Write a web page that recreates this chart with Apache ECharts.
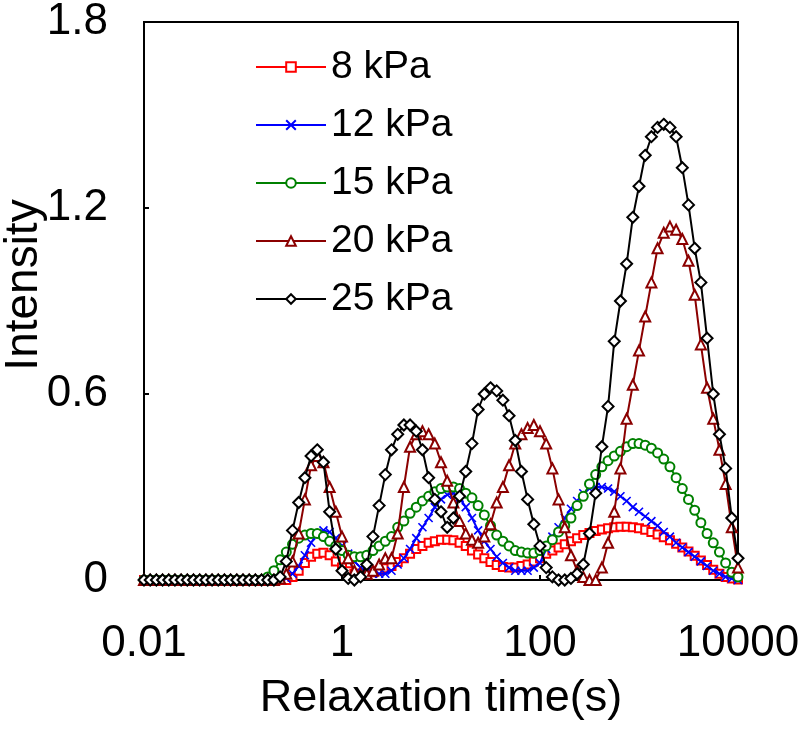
<!DOCTYPE html>
<html>
<head>
<meta charset="utf-8">
<script src="https://cdn.jsdelivr.net/npm/echarts@6/dist/echarts.min.js"></script>
<style>
html,body{margin:0;padding:0;background:#fff;}
#chart{width:800px;height:729px;}
</style>
</head>
<body>
<div id="chart"></div>
<script>
// Relaxation times (s), log-spaced grid
const times = [0.01,0.01155,0.01334,0.0154,0.01778,0.02054,0.02371,0.02738,0.03162,0.03652,0.04217,0.0487,0.05623,0.06494,0.07499,0.0866,
0.1,0.1155,0.1334,0.154,0.1778,0.2054,0.2371,0.2738,0.3162,0.3652,0.4217,0.487,0.5623,0.6494,0.7499,0.866,
1,1.155,1.334,1.54,1.778,2.054,2.371,2.738,3.162,3.652,4.217,4.87,5.623,6.494,7.499,8.66,
10,11.55,13.34,15.4,17.78,20.54,23.71,27.38,31.62,36.52,42.17,48.7,56.23,64.94,74.99,86.6,
100,115.5,133.4,154,177.8,205.4,237.1,273.8,316.2,365.2,421.7,487,562.3,649.4,749.9,866,
1000,1155,1334,1540,1778,2054,2371,2738,3162,3652,4217,4870,5623,6494,7499,8660,
10000];

const seriesNames = ['8 kPa','12 kPa','15 kPa','20 kPa','25 kPa'];

const kPa8 = [0,0,0,0,0,0,0,0,0,0,0,0,0,0,0,0,0,0,0,0,0,0,0,0,
0.01,0.03,0.055,0.075,0.085,0.088,0.08,0.06,
0.04,0.028,0.02,0.02,0.022,0.025,0.03,0.038,0.045,0.058,
0.07,0.085,0.10,0.11,0.12,0.125,0.13,0.13,0.128,0.12,
0.11,0.095,0.082,0.07,0.058,0.048,0.042,0.04,0.04,0.045,
0.05,0.06,0.07,0.085,0.095,0.105,0.115,0.125,0.135,0.145,
0.152,0.158,0.163,0.167,0.17,0.172,0.172,0.17,0.167,0.162,
0.155,0.147,0.138,0.128,0.117,0.105,0.092,0.078,0.063,0.048,
0.033,0.02,0.01,0.005,0.002];

const kPa12 = [0,0,0,0,0,0,0,0,0,0,0,0,0,0,0,0,0,0,0,0,0,0,0,
0.005,0.02,0.045,0.08,0.12,0.15,0.16,0.155,0.135,
0.11,0.085,0.06,0.04,0.03,0.02,0.02,0.02,0.03,0.05,
0.07,0.10,0.135,0.17,0.20,0.235,0.26,0.275,0.28,0.265,
0.235,0.20,0.16,0.125,0.10,0.075,0.055,0.04,0.03,0.03,
0.03,0.04,0.055,0.10,0.14,0.17,0.20,0.23,0.255,0.28,
0.295,0.30,0.30,0.295,0.285,0.27,0.255,0.235,0.22,0.205,
0.19,0.175,0.155,0.14,0.12,0.105,0.09,0.075,0.06,0.045,
0.03,0.02,0.01,0.005,0];

const kPa15 = [0,0,0,0,0,0,0,0,0,0,0,0,0,0,0,0,0,0,0,0,
0.01,0.03,0.065,0.09,0.115,0.135,0.145,0.15,0.15,0.14,
0.125,0.11,0.095,0.08,0.075,0.075,0.08,0.095,0.11,0.125,
0.14,0.17,0.19,0.215,0.235,0.255,0.27,0.285,0.295,0.30,
0.30,0.295,0.28,0.265,0.24,0.21,0.175,0.145,0.125,0.11,
0.095,0.09,0.087,0.087,0.095,0.11,0.13,0.155,0.175,0.20,
0.24,0.27,0.31,0.34,0.365,0.385,0.40,0.415,0.43,0.44,
0.44,0.435,0.425,0.41,0.39,0.365,0.33,0.295,0.26,0.225,
0.185,0.15,0.12,0.09,0.055,0.025,0.01];

const kPa20 = [0,0,0,0,0,0,0,0,0,0,0,0,0,0,0,0,0,0,0,0,0,0,
0.005,0.02,0.06,0.15,0.26,0.37,0.40,0.38,0.30,0.22,
0.14,0.07,0.03,0.02,0.02,0.03,0.05,0.07,0.07,0.15,
0.30,0.43,0.47,0.48,0.47,0.44,0.38,0.32,0.25,0.19,
0.15,0.13,0.12,0.14,0.18,0.25,0.30,0.37,0.44,0.47,
0.49,0.50,0.48,0.44,0.36,0.26,0.17,0.08,0.03,0.01,
0,0,0.04,0.12,0.22,0.36,0.52,0.63,0.74,0.85,
0.96,1.07,1.12,1.14,1.13,1.10,1.03,0.92,0.76,0.62,
0.52,0.42,0.31,0.17,0.04];

const kPa25 = [0,0,0,0,0,0,0,0,0,0,0,0,0,0,0,0,0,0,0,0,0,0,
0.01,0.06,0.16,0.25,0.33,0.40,0.42,0.38,0.22,0.10,
0.03,0.005,0,0.01,0.05,0.14,0.24,0.34,0.42,0.47,
0.50,0.50,0.48,0.42,0.33,0.26,0.22,0.17,0.20,0.27,
0.35,0.44,0.55,0.60,0.62,0.61,0.58,0.53,0.45,0.35,
0.26,0.18,0.11,0.04,0.01,0,0,0.005,0.02,0.05,
0.15,0.28,0.43,0.56,0.77,0.90,1.02,1.17,1.27,1.37,
1.43,1.46,1.47,1.46,1.43,1.33,1.21,1.07,0.96,0.78,
0.60,0.47,0.36,0.20,0.07];

const xTickValues = [0.01, 1, 100, 10000];

const FONT = 'Liberation Sans, Arial, sans-serif';
const allValues = [kPa8, kPa12, kPa15, kPa20, kPa25];
const colors = ['#ff0000', '#0000ff', '#008000', '#8b0000', '#000000'];
const symbols = ['emptyRect', 'path://M0,0L10,10M10,0L0,10', 'emptyCircle', 'emptyTriangle', 'emptyDiamond'];
const symbolSizes = [8, 8, 9, 10, 11];

const series = allValues.map((vals, si) => ({
  name: seriesNames[si],
  type: 'line',
  data: times.map((t, i) => [t, vals[i]]),
  symbol: symbols[si],
  symbolSize: symbolSizes[si],
  showSymbol: true,
  showAllSymbol: true,
  lineStyle: { color: colors[si], width: 2, type: 'solid' },
  itemStyle: { color: colors[si], borderColor: colors[si], borderWidth: 1.6 },
  color: colors[si],
  animation: false,
  z: 2 + si
}));

const chart = echarts.init(document.getElementById('chart'), null, { renderer: 'canvas' });
chart.setOption({
  backgroundColor: '#fff',
  animation: false,
  grid: { left: 144, right: 62, top: 22, bottom: 149, containLabel: false, outerBoundsMode: 'none',
    show: true, borderColor: '#000', borderWidth: 2, backgroundColor: 'transparent' },
  graphic: [{
    type: 'text',
    x: 24,
    y: 285,
    rotation: Math.PI / 2,
    style: { text: 'Intensity', fontFamily: FONT, fontSize: 46, fill: '#000', align: 'center', verticalAlign: 'middle' }
  }],
  legend: {
    orient: 'vertical',
    left: 250,
    top: 42,
    itemWidth: 70,
    itemHeight: 12,
    itemGap: 18,
    textStyle: { fontFamily: FONT, fontSize: 39, color: '#000', lineHeight: 40 },
    data: seriesNames
  },
  xAxis: {
    type: 'log',
    logBase: 10,
    min: 0.01,
    max: 10000,
    name: 'Relaxation time(s)',
    nameLocation: 'middle',
    nameGap: 96,
    nameTextStyle: { fontFamily: FONT, fontSize: 45, color: '#000' },
    axisLine: { show: true, lineStyle: { color: '#000', width: 2 } },
    axisTick: { show: true, inside: true, length: 5, lineStyle: { color: '#000', width: 2 }, customValues: xTickValues },
    axisLabel: { fontFamily: FONT, fontSize: 44, color: '#000', margin: 42, customValues: xTickValues,
      formatter: v => String(+Number(v).toPrecision(4)) },
    splitLine: { show: false },
    minorTick: { show: false }
  },
  yAxis: {
    type: 'value',
    min: 0,
    max: 1.8,
    interval: 0.6,
    axisLine: { show: true, lineStyle: { color: '#000', width: 2 } },
    axisTick: { show: true, inside: true, length: 5, lineStyle: { color: '#000', width: 2 } },
    axisLabel: { fontFamily: FONT, fontSize: 44, color: '#000', margin: 36,
      formatter: v => String(+Number(v).toFixed(1)) },
    splitLine: { show: false }
  },
  series: series
});
</script>
</body>
</html>
